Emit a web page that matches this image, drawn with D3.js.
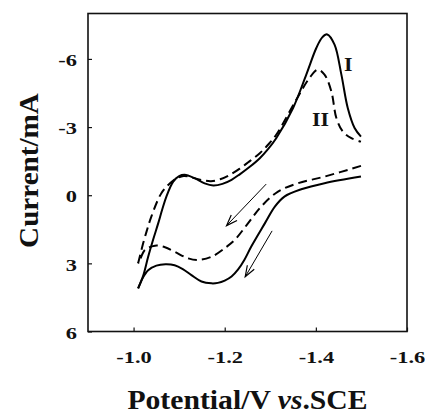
<!DOCTYPE html>
<html>
<head>
<meta charset="utf-8">
<script src="https://cdn.jsdelivr.net/npm/d3@7"></script>
<style>
  html, body { margin: 0; padding: 0; background: #fff; }
  svg { display: block; }
  text { font-family: "Liberation Serif", "Times New Roman", serif; font-weight: bold; fill: #111; }
</style>
</head>
<body>
<svg id="chart" width="425" height="415"></svg>
<script>
// Cyclic voltammograms: curve I (solid) and curve II (dashed).
// Each curve is split into the forward (cathodic) sweep and the return sweep.
// Points are [potential / V vs. SCE, current / mA].
const curveIForward = [
  [-1.010, 4.10], [-1.021, 3.55], [-1.032, 2.71], [-1.043, 1.95], [-1.054, 1.24],
  [-1.063, 0.62], [-1.072, 0.06], [-1.087, -0.60], [-1.100, -0.84], [-1.112, -0.90],
  [-1.134, -0.75], [-1.156, -0.52], [-1.175, -0.43], [-1.195, -0.50], [-1.215, -0.68],
  [-1.233, -0.92], [-1.255, -1.25], [-1.277, -1.63], [-1.295, -2.03], [-1.313, -2.51],
  [-1.350, -3.84], [-1.379, -5.31], [-1.401, -6.48], [-1.414, -6.95], [-1.425, -7.08],
  [-1.441, -6.63], [-1.456, -5.31], [-1.470, -3.84], [-1.485, -2.96], [-1.499, -2.58]
];
const curveIReturn = [
  [-1.499, -0.82], [-1.419, -0.53], [-1.368, -0.26], [-1.331, 0.06], [-1.310, 0.50],
  [-1.288, 1.24], [-1.258, 2.27], [-1.243, 2.85], [-1.229, 3.28], [-1.215, 3.58],
  [-1.200, 3.76], [-1.185, 3.86], [-1.171, 3.88], [-1.149, 3.80], [-1.127, 3.52],
  [-1.108, 3.25], [-1.090, 3.08], [-1.070, 3.04], [-1.050, 3.10], [-1.032, 3.30],
  [-1.020, 3.65], [-1.010, 4.10]
];
const curveIIForward = [
  [-1.010, 3.00], [-1.021, 2.12], [-1.030, 1.50], [-1.039, 0.94], [-1.061, -0.09],
  [-1.080, -0.53], [-1.095, -0.75], [-1.110, -0.85], [-1.128, -0.78], [-1.149, -0.67],
  [-1.170, -0.62], [-1.190, -0.70], [-1.210, -0.88], [-1.233, -1.17], [-1.255, -1.50],
  [-1.277, -1.85], [-1.295, -2.22], [-1.313, -2.66], [-1.357, -4.20], [-1.386, -5.16],
  [-1.404, -5.53], [-1.419, -5.31], [-1.434, -4.57], [-1.445, -3.40], [-1.459, -2.81],
  [-1.478, -2.51], [-1.499, -2.36]
];
const curveIIReturn = [
  [-1.499, -1.29], [-1.419, -0.82], [-1.361, -0.53], [-1.317, -0.16], [-1.280, 0.50],
  [-1.251, 1.24], [-1.222, 1.97], [-1.204, 2.27], [-1.171, 2.71], [-1.142, 2.85],
  [-1.120, 2.78], [-1.090, 2.49], [-1.069, 2.29], [-1.047, 2.22], [-1.025, 2.41],
  [-1.014, 2.85], [-1.010, 3.00]
];

// Sweep-direction arrows (start point -> head), in data units.
const sweepArrows = [
  { from: [-1.291, -0.49], to: [-1.204, 1.34] },
  { from: [-1.304, 1.57], to: [-1.245, 3.59] }
];

// Curve labels, in data units (x centre, baseline).
const curveLabels = [
  { text: "I", at: [-1.471, -5.45] },
  { text: "II", at: [-1.410, -3.03] }
];

const xTickValues = [-1.0, -1.2, -1.4, -1.6];
const xTickLabels = ["-1.0", "-1.2", "-1.4", "-1.6"];
const yTickValues = [-6, -3, 0, 3, 6];
const yTickLabels = ["-6", "-3", "0", "3", "6"];

const xTitle = ["Potential/V ", "vs", ".SCE"];
const yTitle = "Current/mA";

// ---- layout ----
const svg = d3.select("#chart");
const plot = { left: 88, right: 407, top: 13.5, bottom: 331.5 };

// Potential runs more negative to the right; current is plotted negative-up.
const x = d3.scaleLinear().domain([-0.9, -1.6]).range([plot.left, plot.right]);
const y = d3.scaleLinear().domain([-8, 6]).range([plot.top, plot.bottom]);

// Widen glyphs horizontally by a factor, keeping the text anchor.
function stretch(sel, factor) {
  sel.each(function () {
    const w = this.getComputedTextLength();
    this.setAttribute("textLength", (w * factor).toFixed(2));
    this.setAttribute("lengthAdjust", "spacingAndGlyphs");
  });
}

// ---- axes (inward ticks) ----
const xAxis = d3.axisBottom(x)
  .tickValues(xTickValues)
  .tickFormat((d, i) => xTickLabels[i])
  .tickSize(-4)
  .tickSizeOuter(0);
const gx = svg.append("g")
  .attr("transform", `translate(0,${plot.bottom})`)
  .call(xAxis);
gx.select(".domain").remove();
gx.selectAll(".tick line").attr("stroke", "#111").attr("stroke-width", 1.2);
gx.selectAll(".tick text")
  .attr("y", 31.5).attr("dy", 0)
  .style("font-family", "'Liberation Serif', serif")
  .style("font-weight", "bold")
  .style("font-size", "16px")
  .attr("fill", "#111")
  .call(stretch, 1.4);

const yAxis = d3.axisLeft(y)
  .tickValues(yTickValues)
  .tickFormat((d, i) => yTickLabels[i])
  .tickSize(-4)
  .tickSizeOuter(0);
const gy = svg.append("g")
  .attr("transform", `translate(${plot.left},0)`)
  .call(yAxis);
gy.select(".domain").remove();
gy.selectAll(".tick line").attr("stroke", "#111").attr("stroke-width", 1.2);
gy.selectAll(".tick text")
  .attr("x", -11).attr("dy", "0.42em")
  .attr("text-anchor", "end")
  .style("font-family", "'Liberation Serif', serif")
  .style("font-weight", "bold")
  .style("font-size", "16px")
  .attr("fill", "#111")
  .call(stretch, 1.4);

// ---- frame ----
svg.append("rect")
  .attr("x", plot.left).attr("y", plot.top)
  .attr("width", plot.right - plot.left)
  .attr("height", plot.bottom - plot.top)
  .attr("fill", "none")
  .attr("stroke", "#111")
  .attr("stroke-width", 1.6);

// ---- curves ----
const line = d3.line()
  .x(d => x(d[0]))
  .y(d => y(d[1]))
  .curve(d3.curveCatmullRom.alpha(0.5));

const curves = svg.append("g").attr("fill", "none").attr("stroke", "#000")
  .attr("stroke-width", 2).attr("stroke-linejoin", "round");

[curveIForward, curveIReturn].forEach(pts => {
  curves.append("path").attr("d", line(pts));
});
[curveIIForward, curveIIReturn].forEach(pts => {
  curves.append("path").attr("d", line(pts)).attr("stroke-dasharray", "9,5");
});

// ---- sweep arrows ----
svg.append("defs").append("marker")
  .attr("id", "vhead")
  .attr("viewBox", "-12 -6 14 12")
  .attr("refX", 0).attr("refY", 0)
  .attr("markerUnits", "userSpaceOnUse")
  .attr("markerWidth", 14).attr("markerHeight", 12)
  .attr("orient", "auto")
  .append("path")
  .attr("d", "M-11,-4 L0,0 L-11,4")
  .attr("fill", "none")
  .attr("stroke", "#000")
  .attr("stroke-width", 1.2);

svg.append("g").selectAll("line")
  .data(sweepArrows)
  .join("line")
  .attr("x1", d => x(d.from[0])).attr("y1", d => y(d.from[1]))
  .attr("x2", d => x(d.to[0])).attr("y2", d => y(d.to[1]))
  .attr("stroke", "#000")
  .attr("stroke-width", 1)
  .attr("marker-end", "url(#vhead)");

// ---- curve labels ----
svg.append("g").selectAll("text")
  .data(curveLabels)
  .join("text")
  .attr("x", d => x(d.at[0]))
  .attr("y", d => y(d.at[1]))
  .attr("text-anchor", "middle")
  .style("font-size", "19px")
  .text(d => d.text)
  .call(stretch, 1.15);

// ---- axis titles ----
const xt = svg.append("text")
  .attr("x", (plot.left + plot.right) / 2)
  .attr("y", 408.5)
  .attr("text-anchor", "middle")
  .style("font-size", "28px");
xt.append("tspan").text(xTitle[0]);
xt.append("tspan").style("font-style", "italic").text(xTitle[1]);
xt.append("tspan").text(xTitle[2]);
xt.call(stretch, 1.06);

svg.append("text")
  .attr("transform", `translate(37.5,${(plot.top + plot.bottom) / 2 - 2}) rotate(-90)`)
  .attr("text-anchor", "middle")
  .style("font-size", "28px")
  .text(yTitle)
  .call(stretch, 1.04);
</script>
</body>
</html>
